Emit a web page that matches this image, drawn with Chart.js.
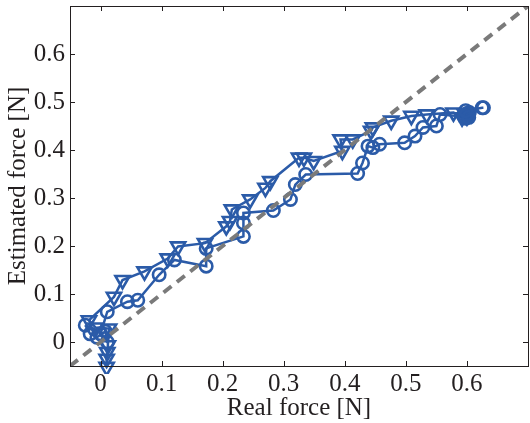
<!DOCTYPE html>
<html>
<head>
<meta charset="utf-8">
<script src="https://cdn.jsdelivr.net/npm/chart.js@4.4.0/dist/chart.umd.min.js"></script>
<style>
    html, body { margin: 0; padding: 0; background: #fff; }
    #wrap { width: 530px; height: 423px; }
</style>
</head>
<body>
<div id="wrap"><canvas id="forceChart" width="530" height="423"></canvas></div>
<script>
// Tick values shared by both axes
const tickValues = [0, 0.1, 0.2, 0.3, 0.4, 0.5, 0.6];
const axisMin = -0.05;
const axisMax = 0.7;

// Circle series (real force, estimated force)
const circleX = [-0.025, -0.017, -0.006, 0.008, 0.011, 0.000, 0.011, 0.044, 0.061, 0.096, 0.121, 0.173, 0.173,
    0.234, 0.234, 0.234, 0.283, 0.311, 0.319, 0.336, 0.421, 0.429, 0.438, 0.446, 0.457, 0.498,
    0.515, 0.528, 0.550, 0.556, 0.595, 0.602, 0.598, 0.604, 0.597, 0.600, 0.603, 0.598, 0.625, 0.627];
const circleY = [0.035, 0.017, 0.010, 0.022, 0.000, 0.017, 0.063, 0.084, 0.087, 0.140, 0.171, 0.158, 0.195,
    0.220, 0.248, 0.269, 0.274, 0.297, 0.328, 0.349, 0.351, 0.373, 0.408, 0.405, 0.412, 0.415,
    0.429, 0.447, 0.450, 0.474, 0.470, 0.473, 0.466, 0.478, 0.471, 0.476, 0.468, 0.482, 0.488, 0.488];

// Downward triangle series
const triX = [0.010, 0.010, 0.011, 0.012, 0.014, -0.008, -0.019, 0.022, 0.036, 0.072, 0.110, 0.127, 0.171,
    0.206, 0.212, 0.215, 0.245, 0.270, 0.278, 0.325, 0.333, 0.349, 0.396, 0.393, 0.413, 0.443,
    0.446, 0.476, 0.509, 0.534, 0.578, 0.592, 0.600, 0.597];
const triY = [-0.052, -0.035, -0.021, -0.007, 0.028, 0.030, 0.045, 0.094, 0.129, 0.147, 0.174, 0.199, 0.206,
    0.241, 0.252, 0.276, 0.297, 0.321, 0.335, 0.384, 0.384, 0.377, 0.398, 0.422, 0.422, 0.440,
    0.447, 0.461, 0.471, 0.474, 0.478, 0.468, 0.470, 0.474];

// Ideal y = x reference
const refX = [axisMin, axisMax];
const refY = [axisMin, axisMax];

const toPoints = (xs, ys) => xs.map((x, i) => ({ x: x, y: ys[i] }));

const blue = '#2b5ba8';
const textColor = '#231f20';
const serif = '"Liberation Serif", "DejaVu Serif", serif';

// Draws the box and MATLAB-style inward ticks on all four sides
const frameTicks = {
    id: 'frameTicks',
    afterDraw(chart) {
        const { ctx, chartArea: a, scales } = chart;
        const len = 5;
        ctx.save();
        ctx.strokeStyle = textColor;
        ctx.lineWidth = 1;
        ctx.beginPath();
        tickValues.forEach(v => {
            const px = Math.round(scales.x.getPixelForValue(v)) + 0.5;
            ctx.moveTo(px, a.bottom); ctx.lineTo(px, a.bottom - len);
            ctx.moveTo(px, a.top); ctx.lineTo(px, a.top + len);
            const py = Math.round(scales.y.getPixelForValue(v)) + 0.5;
            ctx.moveTo(a.left, py); ctx.lineTo(a.left + len, py);
            ctx.moveTo(a.right, py); ctx.lineTo(a.right - len, py);
        });
        ctx.stroke();
        ctx.strokeRect(Math.round(a.left) + 0.5, Math.round(a.top) + 0.5,
            Math.round(a.right - a.left), Math.round(a.bottom - a.top));
        ctx.restore();
    }
};

const fixTicks = scale => { scale.ticks = tickValues.map(v => ({ value: v })); };
const fmt = v => (v === 0 ? '0' : v.toFixed(1));

new Chart(document.getElementById('forceChart'), {
    type: 'scatter',
    data: {
        datasets: [
            {
                label: 'ideal',
                data: toPoints(refX, refY),
                showLine: true,
                borderColor: '#7a7a7a',
                borderWidth: 4,
                borderDash: [10, 7],
                pointRadius: 0,
                clip: 0
            },
            {
                label: 'circles',
                data: toPoints(circleX, circleY),
                showLine: true,
                borderColor: blue,
                borderWidth: 2.5,
                pointStyle: 'circle',
                pointRadius: 6.2,
                pointBorderWidth: 2.6,
                pointBorderColor: blue,
                pointBackgroundColor: 'rgba(0,0,0,0)'
            },
            {
                label: 'triangles',
                data: toPoints(triX, triY),
                showLine: true,
                borderColor: blue,
                borderWidth: 2.5,
                pointStyle: 'triangle',
                rotation: 180,
                pointRadius: 8.2,
                pointBorderWidth: 2.6,
                pointBorderColor: blue,
                pointBackgroundColor: 'rgba(0,0,0,0)',
                clip: 8
            }
        ]
    },
    options: {
        responsive: false,
        animation: false,
        layout: { autoPadding: false, padding: { top: 6, right: 2, left: 0, bottom: 0 } },
        plugins: {
            legend: { display: false },
            tooltip: { enabled: false }
        },
        scales: {
            x: {
                type: 'linear',
                min: axisMin,
                max: axisMax,
                afterBuildTicks: fixTicks,
                afterFit: scale => {
                    scale.height = 57;
                    scale.paddingLeft = 0;
                    scale.paddingRight = 0;
                },
                grid: { display: false, drawTicks: false },
                border: { display: false },
                ticks: {
                    color: textColor,
                    font: { family: serif, size: 25 },
                    padding: 3,
                    maxRotation: 0,
                    callback: fmt
                },
                title: {
                    display: true,
                    text: 'Real force [N]',
                    color: textColor,
                    font: { family: serif, size: 25 },
                    padding: { top: 0, bottom: 0 }
                }
            },
            y: {
                type: 'linear',
                min: axisMin,
                max: axisMax,
                afterBuildTicks: fixTicks,
                afterFit: scale => {
                    scale.width = 70;
                    scale.paddingTop = 0;
                    scale.paddingBottom = 0;
                },
                grid: { display: false, drawTicks: false },
                border: { display: false },
                ticks: {
                    color: textColor,
                    font: { family: serif, size: 25 },
                    padding: 5,
                    callback: fmt
                },
                title: {
                    display: true,
                    text: 'Estimated force [N]',
                    color: textColor,
                    font: { family: serif, size: 25 },
                    padding: { top: 3, bottom: 0 }
                }
            }
        }
    },
    plugins: [frameTicks]
});
</script>
</body>
</html>
